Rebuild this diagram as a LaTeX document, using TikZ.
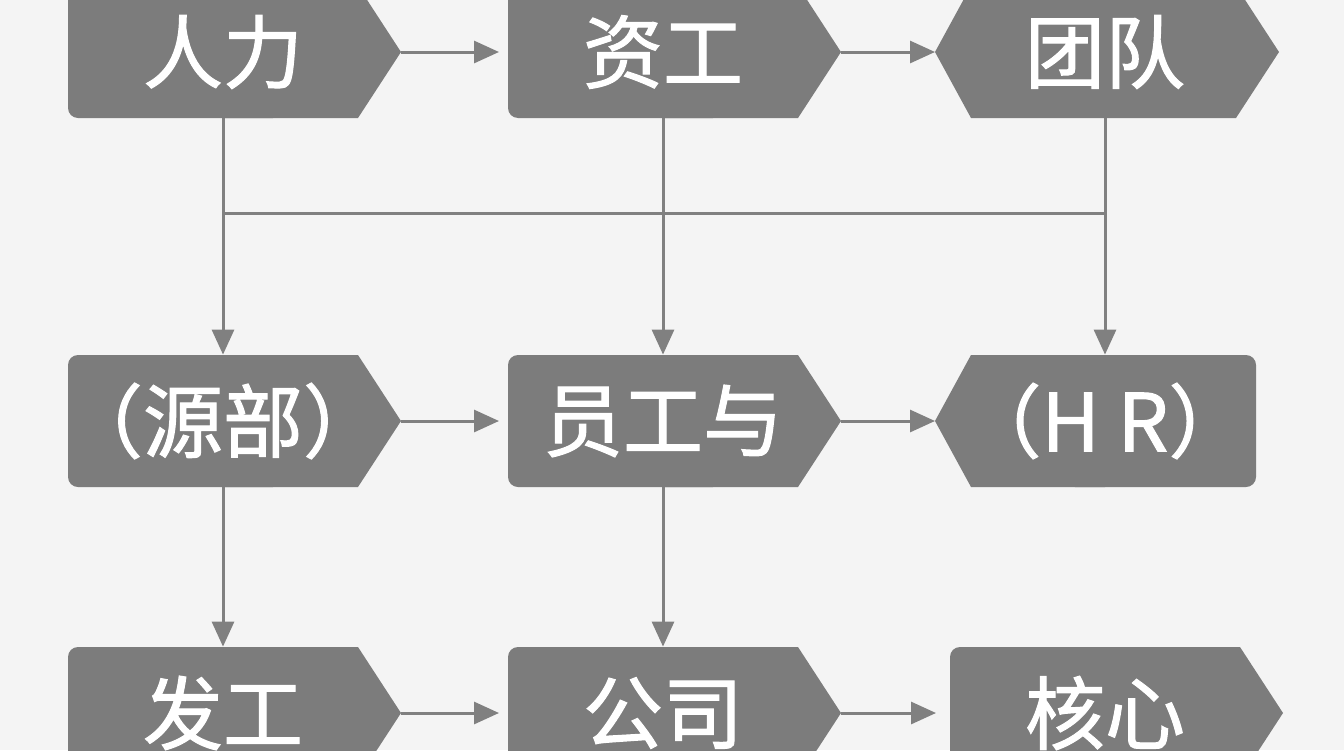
\documentclass[tikz,border=0pt]{standalone}
\usepackage{fontspec}
\newfontfamily\cjk[FakeBold=1.3]{Noto Sans CJK SC}
\usetikzlibrary{calc,arrows.meta,backgrounds}

\definecolor{boxgray}{HTML}{7C7C7C}
\definecolor{linegray}{HTML}{808080}
\definecolor{paper}{HTML}{F4F4F4}

\tikzset{
  lbl/.style={text=white, font=\cjk\fontsize{40}{40}\selectfont, inner sep=0pt, minimum height=66pt},
  flow/.style={draw=linegray, line width=1.5pt, -{Triangle[length=12.5pt,width=11pt]}},
  wire/.style={draw=linegray, line width=1.5pt}
}

% rounded on the left, pointed to the right
\newcommand{\tagright}[1]{%
  \fill[boxgray, rounded corners=5pt] ($(#1)+(-155,-66)$) rectangle ($(#1)+(60,66)$);
  \fill[boxgray] ($(#1)+(0,-66)$) -- ($(#1)+(135,-66)$) -- ($(#1)+(178,0)$) -- ($(#1)+(135,66)$) -- ($(#1)+(0,66)$) -- cycle;}
% pointed to the left, rounded on the right
\newcommand{\tagleft}[1]{%
  \fill[boxgray, rounded corners=5pt] ($(#1)+(-40,-66)$) rectangle ($(#1)+(151,66)$);
  \fill[boxgray] ($(#1)+(0,-66)$) -- ($(#1)+(-134,-66)$) -- ($(#1)+(-170,0)$) -- ($(#1)+(-134,66)$) -- ($(#1)+(0,66)$) -- cycle;}
% pointed on both sides
\newcommand{\taghex}[1]{%
  \fill[boxgray] ($(#1)+(-170,0)$) -- ($(#1)+(-134,-66)$) -- ($(#1)+(131,-66)$) -- ($(#1)+(174,0)$) -- ($(#1)+(131,66)$) -- ($(#1)+(-134,66)$) -- cycle;}

\begin{document}
\begin{tikzpicture}[x=0.5pt, y=-0.5pt]
\useasboundingbox (0,0) rectangle (1344,750);

% rows
\node[lbl] (rl) at (223,52) {人力};
\node[lbl] (zg) at (663,52) {资工};
\node[lbl] (td) at (1105,52) {团队};
\node[lbl] (yb) at (223,421) {（源部）};
\node[lbl] (yg) at (663,421) {员工与};
\node[lbl] (hr) at (1105,421) {（H R）};
\node[lbl] (fg) at (223,713) {发工};
\node[lbl] (gs) at (663,713) {公司};
\node[lbl] (hx) at (1105,713) {核心};

\begin{scope}[on background layer]
  \fill[paper] (0,0) rectangle (1344,750);
  \tagright{rl} \tagright{zg} \taghex{td}
  \tagright{yb} \tagright{yg} \tagleft{hr}
  \tagright{fg} \tagright{gs} \tagright{hx}
\end{scope}

% across
\draw[flow] ($(rl)+(178,0)$) -- ($(zg)+(-164,0)$);
\draw[flow] ($(zg)+(178,0)$) -- ($(td)+(-170,0)$);
\draw[flow] ($(yb)+(178,0)$) -- ($(yg)+(-164,0)$);
\draw[flow] ($(yg)+(178,0)$) -- ($(hr)+(-170,0)$);
\draw[flow] ($(fg)+(178,0)$) -- ($(gs)+(-164,0)$);
\draw[flow] ($(gs)+(178,0)$) -- ($(hx)+(-169,0)$);

% down
\draw[flow] (rl.south) -- (yb.north);
\draw[flow] (zg.south) -- (yg.north);
\draw[flow] (td.south) -- (hr.north);
\draw[flow] (yb.south) -- (fg.north);
\draw[flow] (yg.south) -- (gs.north);
\draw[wire] ($(rl.south)+(0,95)$) coordinate (bus) -- (bus -| td.south);
\end{tikzpicture}
\end{document}
